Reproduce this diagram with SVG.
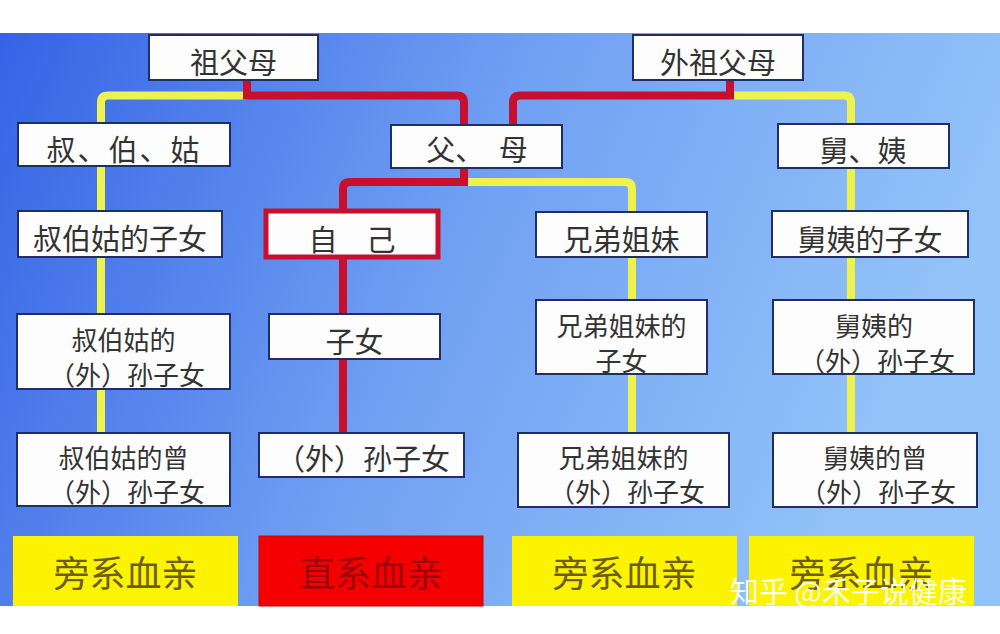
<svg xmlns="http://www.w3.org/2000/svg" width="1000" height="634" viewBox="0 0 1000 634">
<defs>
<linearGradient id="bg" x1="0" y1="0" x2="1" y2="0.25">
<stop offset="0" stop-color="#3563e6"/>
<stop offset="0.5" stop-color="#6f9ff2"/>
<stop offset="1" stop-color="#93c3f8"/>
</linearGradient>
<style>
.box{fill:#fdfdfd;stroke:#1f2f66;stroke-width:2}
.self{fill:#fdfdfd;stroke:#c8102e;stroke-width:5}
.t{font-family:"Noto Sans CJK SC","Noto Sans CJK TC",sans-serif;font-size:29px;fill:#333;text-anchor:middle}
.t2{font-family:"Noto Sans CJK SC","Noto Sans CJK TC",sans-serif;font-size:26px;fill:#333;text-anchor:middle}
.lab{font-family:"Noto Sans CJK SC","Noto Sans CJK TC",serif;font-size:36px;text-anchor:middle}
.red{fill:none;stroke:#c8102e;stroke-width:8}
.yel{fill:none;stroke:#eef24e;stroke-width:8}
</style>
</defs>
<rect x="0" y="0" width="1000" height="634" fill="#ffffff"/>
<rect x="0" y="33" width="1000" height="573" fill="url(#bg)"/>

<g id="connectors">
<path class="yel" d="M247,95.5 H108 Q101,95.5 101,102.5 V433"/>
<path class="yel" d="M730,95.5 H844 Q851,95.5 851,102.5 V433"/>
<path class="yel" d="M464,182 H625 Q632,182 632,189 V433"/>
<path class="red" d="M247,80 V95.5 H457 Q464,95.5 464,102.5 V125"/>
<path class="red" d="M730,80 V95.5 H520 Q513,95.5 513,102.5 V125"/>
<path class="red" d="M464,168 V182 H350 Q343,182 343,189 V210"/>
<path class="red" d="M343,257 V433"/>
</g>

<g id="n-zufumu"><rect class="box" x="149" y="35" width="169" height="45"/><text class="t" x="233.5" y="74">祖父母</text></g>
<g id="n-waizufumu"><rect class="box" x="633" y="35" width="170" height="45"/><text class="t" x="718" y="74">外祖父母</text></g>
<g id="n-shubogu"><rect class="box" x="18" y="123" width="212" height="43"/><text class="t" x="124" y="161" letter-spacing="2">叔、伯、姑</text></g>
<g id="n-fumu"><rect class="box" x="391" y="125" width="171" height="43"/><text class="t" x="477" y="161">父、　母</text></g>
<g id="n-jiuyi"><rect class="box" x="778" y="124" width="171" height="44"/><text class="t" x="863" y="162">舅、姨</text></g>

<g id="n-shubogu-zinv"><rect class="box" x="18" y="211" width="204" height="46"/><text class="t" x="120" y="250">叔伯姑的子女</text></g>
<g id="n-ziji"><rect class="self" x="266" y="211" width="172" height="46"/><text class="t" x="352" y="251">自　己</text></g>
<g id="n-xiongdi"><rect class="box" x="536" y="212" width="171" height="45"/><text class="t" x="621.5" y="251">兄弟姐妹</text></g>
<g id="n-jiuyi-zinv"><rect class="box" x="772" y="211" width="196" height="46"/><text class="t" x="870" y="251">舅姨的子女</text></g>

<g id="n-shubogu-sun"><rect class="box" x="17" y="314" width="213" height="75"/><text class="t2" x="123.5" y="350">叔伯姑的</text><text class="t2" x="127" y="385">（外）孙子女</text></g>
<g id="n-zinv"><rect class="box" x="269" y="314" width="171" height="45"/><text class="t" x="354.5" y="353">子女</text></g>
<g id="n-xiongdi-zinv"><rect class="box" x="536" y="300" width="171" height="74"/><text class="t2" x="621.5" y="336">兄弟姐妹的</text><text class="t2" x="621.5" y="371">子女</text></g>
<g id="n-jiuyi-sun"><rect class="box" x="773" y="300" width="201" height="74"/><text class="t2" x="874" y="336">舅姨的</text><text class="t2" x="877" y="371">（外）孙子女</text></g>

<g id="n-shubogu-zeng"><rect class="box" x="17" y="433" width="213" height="73"/><text class="t2" x="123.5" y="468">叔伯姑的曾</text><text class="t2" x="127" y="502">（外）孙子女</text></g>
<g id="n-sunzinv"><rect class="box" x="259" y="433" width="205" height="44"/><text class="t" x="363" y="470">（外）孙子女</text></g>
<g id="n-xiongdi-sun"><rect class="box" x="518" y="433" width="211" height="74"/><text class="t2" x="623.5" y="468">兄弟姐妹的</text><text class="t2" x="627" y="502">（外）孙子女</text></g>
<g id="n-jiuyi-zeng"><rect class="box" x="773" y="433" width="204" height="74"/><text class="t2" x="875" y="468">舅姨的曾</text><text class="t2" x="878" y="502">（外）孙子女</text></g>

<g id="legend-1"><rect x="13" y="536" width="225" height="70" fill="#fbf300"/><text class="lab" x="125.5" y="587" fill="#6e5c10">旁系血亲</text></g>
<g id="legend-2"><rect x="259" y="536" width="224" height="70" fill="#f40000" stroke="#d00010" stroke-width="1"/><text class="lab" x="371" y="587" fill="#9c0008">直系血亲</text></g>
<g id="legend-3"><rect x="512" y="536" width="225" height="70" fill="#fbf300"/><text class="lab" x="624.5" y="587" fill="#6e5c10">旁系血亲</text></g>
<g id="legend-4"><rect x="749" y="536" width="225" height="70" fill="#fbf300"/><text class="lab" x="861.5" y="587" fill="#6e5c10">旁系血亲</text></g>

<text x="730" y="603" font-family="'Noto Sans CJK SC',sans-serif" font-size="29" fill="#ffffff" fill-opacity="0.95">知乎 @禾子说健康</text>
</svg>
